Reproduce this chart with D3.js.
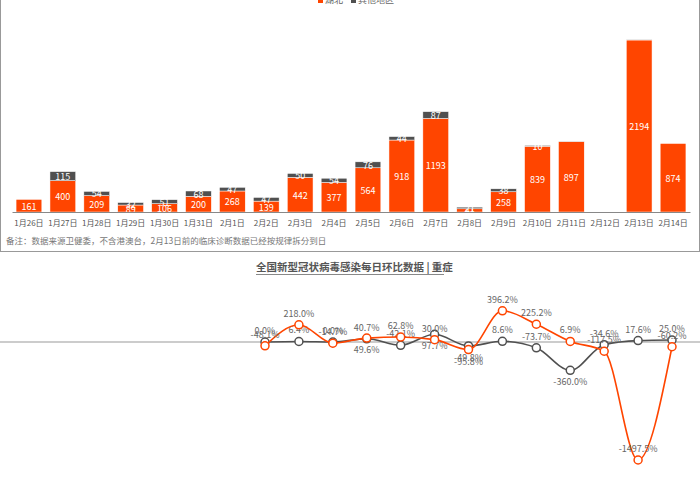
<!DOCTYPE html><html><head><meta charset="utf-8"><script src="https://cdn.jsdelivr.net/npm/d3@7"></script>
<style>body{margin:0;background:#fff}text{font-family:"Noto Sans CJK SC","Noto Sans",sans-serif}</style></head><body>
<svg id="c" width="700" height="500"></svg>
<script>
const dates=["1月26日","1月27日","1月28日","1月29日","1月30日","1月31日","2月1日","2月2日","2月3日","2月4日","2月5日","2月6日","2月7日","2月8日","2月9日","2月10日","2月11日","2月12日","2月13日","2月14日"];
const hubei=[161,400,209,89,106,200,268,139,442,377,564,918,1193,41,258,839,897,0,2194,874];
const other=[0,115,54,32,51,68,47,47,50,54,76,44,87,21,38,10,3,0,3,0];
const lineIdx=["2月2日","2月3日","2月4日","2月5日","2月6日","2月7日","2月8日","2月9日","2月10日","2月11日","2月12日","2月13日","2月14日"];
const orangeVals=[-48.1,218.0,-14.7,49.6,62.8,30.0,-95.8,396.2,225.2,6.9,-117.5,-1497.5,-60.2];
const grayVals=[0.0,6.4,0.0,40.7,-42.1,97.7,-49.8,8.6,-73.7,-360.0,-34.6,17.6,25.0];
// label above (1) or below (0)
const orangeAbove=[1,1,1,0,1,1,0,1,1,1,1,1,1];
const grayAbove=[1,1,1,1,1,0,0,1,1,0,1,1,1];
const OR="#ff4500",GR="#505050";
const svg=d3.select("#c");
svg.append("line").attr("x1",0.5).attr("x2",0.5).attr("y1",0).attr("y2",252).attr("stroke","#999");
svg.append("line").attr("x1",0).attr("x2",700).attr("y1",251.5).attr("y2",251.5).attr("stroke","#999");
svg.append("line").attr("x1",699.5).attr("x2",699.5).attr("y1",0).attr("y2",252).attr("stroke","#999");
const lg=svg.append("g").attr("font-size",9);
lg.append("rect").attr("x",318).attr("y",-2).attr("width",5).attr("height",5).attr("fill",OR);
lg.append("text").attr("x",325).attr("y",3).text("湖北").attr("fill","#666");
lg.append("rect").attr("x",351).attr("y",-2).attr("width",5).attr("height",5).attr("fill",GR);
lg.append("text").attr("x",358).attr("y",3).text("其他地区").attr("fill","#666");
const x=d3.scaleBand().domain(dates).range([12,690]).paddingInner(0.24).paddingOuter(0.12);
const y=d3.scaleLinear().domain([0,2194]).range([212,40]);
const g=svg.append("g");
dates.forEach((d,i)=>{
  if(hubei[i]>0){g.append("rect").attr("x",x(d)).attr("width",x.bandwidth()).attr("y",y(hubei[i])).attr("height",212-y(hubei[i])).attr("fill",OR).attr("stroke","#fff").attr("stroke-width",0.5);
  g.append("text").attr("x",x(d)+x.bandwidth()/2).attr("y",(y(hubei[i])+212)/2+4).attr("text-anchor","middle").attr("font-size",9).attr("fill","#fff").text(hubei[i]);}
  if(other[i]>0){const y0=y(hubei[i]),y1=y(hubei[i]+other[i]);
  g.append("rect").attr("x",x(d)).attr("width",x.bandwidth()).attr("y",y1).attr("height",y0-y1).attr("fill",GR).attr("stroke","#fff").attr("stroke-width",0.5);
  if(other[i]>=10)g.append("text").attr("x",x(d)+x.bandwidth()/2).attr("y",(y0+y1)/2+4).attr("text-anchor","middle").attr("font-size",9).attr("fill","#fff").text(other[i]);}
});
g.append("g").attr("transform","translate(0,212)").call(d3.axisBottom(x).tickSize(0).tickPadding(8)).call(a=>{a.select(".domain").attr("stroke","#888");a.selectAll("text").attr("font-size",8).attr("fill","#555")});
svg.append("text").attr("x",6).attr("y",244).attr("font-size",8.5).attr("fill","#777").text("备注：数据来源卫健委，不含港澳台，2月13日前的临床诊断数据已经按规律拆分到日");
svg.append("text").attr("x",256).attr("y",271).attr("font-size",10.5).attr("font-weight","bold").attr("fill","#555").text("全国新型冠状病毒感染每日环比数据 | 重症");
svg.append("line").attr("x1",256).attr("x2",444).attr("y1",274.5).attr("y2",274.5).attr("stroke","#888");
const lx=d3.scalePoint().domain(lineIdx).range([265,672]);
const ly=d3.scaleLinear().domain([-1497.5,0]).range([460,342]);
svg.append("line").attr("x1",0).attr("x2",700).attr("y1",ly(0)).attr("y2",ly(0)).attr("stroke","#999");
const ln=d3.line().x((d,i)=>lx(lineIdx[i])).y(d=>ly(d)).curve(d3.curveMonotoneX);
[[grayVals,GR,grayAbove],[orangeVals,OR,orangeAbove]].forEach(([vals,c,ab])=>{
  svg.append("path").attr("d",ln(vals)).attr("fill","none").attr("stroke",c).attr("stroke-width",1.6);
  vals.forEach((v,i)=>{
    svg.append("circle").attr("cx",lx(lineIdx[i])).attr("cy",ly(v)).attr("r",4).attr("fill","#fff").attr("stroke",c).attr("stroke-width",1.5);
    svg.append("text").attr("x",lx(lineIdx[i])).attr("y",ab[i]?ly(v)-8:ly(v)+15).attr("text-anchor","middle").attr("font-size",9).attr("fill","#666").text(v.toFixed(1)+"%");
  });
});
</script></body></html>
